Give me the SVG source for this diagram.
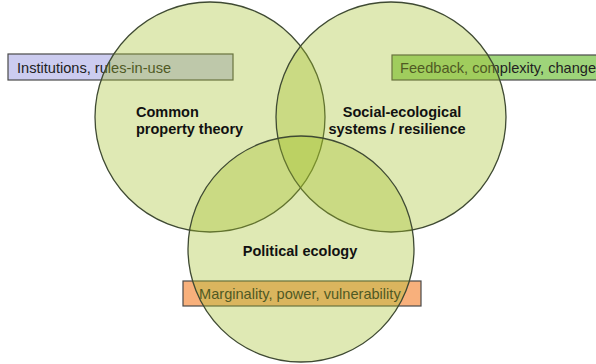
<svg xmlns="http://www.w3.org/2000/svg" width="596" height="364" viewBox="0 0 596 364">
  <style>
    .circ { fill: #a4c029; fill-opacity: 0.35; stroke: #3f4a33; stroke-width: 1.3; }
    .box { stroke: #4a4a4a; stroke-width: 1.2; }
    .boxtxt { font-family: "Liberation Sans", Arial, sans-serif; font-size: 14.6px; fill: #222; }
    .lbl { font-family: "Liberation Sans", Arial, sans-serif; font-size: 14.5px; font-weight: bold; fill: #111; }
  </style>
  <rect width="596" height="364" fill="#ffffff"/>
  <g id="box-institutions">
    <rect class="box" x="8" y="54" width="225" height="26" fill="#ccccf0"/>
    <text class="boxtxt" x="17" y="72.5">Institutions, rules-in-use</text>
  </g>
  <g id="box-feedback">
    <rect class="box" x="392" y="55" width="210" height="25" fill="#9ed47a"/>
    <text class="boxtxt" x="400" y="72.5">Feedback, complexity, change</text>
  </g>
  <g id="box-marginality">
    <rect class="box" x="183" y="281" width="238" height="25" fill="#f8b07c"/>
    <text class="boxtxt" x="199" y="299">Marginality, power, vulnerability</text>
  </g>
  <g id="common-property">
    <circle class="circ" cx="210" cy="117" r="115"/>
  </g>
  <g id="social-ecological">
    <circle class="circ" cx="391" cy="117" r="115"/>
  </g>
  <g id="political-ecology">
    <circle class="circ" cx="301" cy="249" r="113"/>
  </g>
  <g id="labels">
    <text class="lbl" x="136" y="117">Common</text>
    <text class="lbl" x="136" y="134">property theory</text>
    <text class="lbl" x="402" y="117" text-anchor="middle">Social-ecological</text>
    <text class="lbl" x="397" y="134" text-anchor="middle">systems / resilience</text>
    <text class="lbl" x="300" y="256" text-anchor="middle">Political ecology</text>
  </g>
  <g id="connectors"></g>
</svg>
